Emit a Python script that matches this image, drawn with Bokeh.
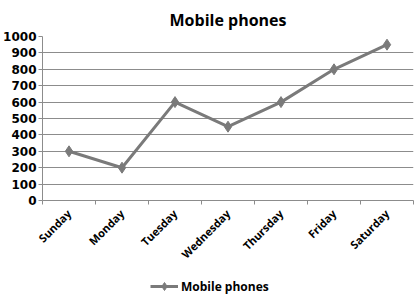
from bokeh.plotting import figure
from bokeh.layouts import column
from bokeh.models import (Range1d, LinearAxis, FixedTicker, Legend, LegendItem, ColumnDataSource)
from bokeh.embed import file_html
from bokeh.resources import INLINE
import math

days = ["Sunday", "Monday", "Tuesday", "Wednesday", "Thursday", "Friday", "Saturday"]
phones = [300, 200, 600, 450, 600, 800, 950]
y_ticks = [0, 100, 200, 300, 400, 500, 600, 700, 800, 900, 1000]
series_name = "Mobile phones"

FONT = "Open Sans"
NUM_FONT = "DejaVu Sans"
LINE_COLOR = "#7a7a7a"
GRID_COLOR = "#8c8c8c"

# each day sits in the middle of its own unit-wide slot
slot_centers = [i + 0.5 for i in range(len(days))]
slot_edges = list(range(len(days) + 1))

src = ColumnDataSource(dict(x=slot_centers, value=phones, day=days))

p = figure(width=419, height=270, x_range=Range1d(0, len(days)), y_range=Range1d(0, 1000),
           output_backend="svg", toolbar_location=None, x_axis_location=None, y_axis_location=None,
           min_border_left=42, min_border_right=6, min_border_top=35, min_border_bottom=70)

p.title.text = series_name
p.title.align = "center"
p.title.offset = -10
p.title.text_font = FONT
p.title.text_font_size = "16px"
p.title.text_font_style = "bold"
p.title.text_color = "black"
p.title.standoff = 12

p.outline_line_color = None
p.background_fill_color = "white"
p.border_fill_color = "white"

# value axis
yax = LinearAxis(ticker=FixedTicker(ticks=y_ticks))
yax.axis_line_color = GRID_COLOR
yax.major_tick_line_color = GRID_COLOR
yax.major_tick_out = 4
yax.major_tick_in = 0
yax.minor_tick_line_color = None
yax.major_label_standoff = 2
yax.major_label_text_font = NUM_FONT
yax.major_label_text_font_size = "12px"
yax.major_label_text_font_style = "bold"
yax.major_label_text_color = "black"
p.add_layout(yax, "left")

p.ygrid.ticker = FixedTicker(ticks=y_ticks)
p.xgrid.grid_line_color = None
p.ygrid.grid_line_color = GRID_COLOR
p.ygrid.grid_line_width = 1

# base line with ticks between the day slots (no labels of its own)
tick_ax = LinearAxis(ticker=FixedTicker(ticks=slot_edges),
                     major_label_overrides={e: "" for e in slot_edges})
tick_ax.axis_line_color = GRID_COLOR
tick_ax.major_tick_line_color = GRID_COLOR
tick_ax.major_tick_out = 4
tick_ax.major_tick_in = 0
tick_ax.minor_tick_line_color = None
tick_ax.major_label_standoff = 0
p.add_layout(tick_ax, "below")

# day names under the slot centres
xax = LinearAxis(ticker=FixedTicker(ticks=slot_centers),
                 major_label_overrides={c: d for c, d in zip(slot_centers, days)})
xax.axis_line_color = None
xax.major_tick_line_color = None
xax.minor_tick_line_color = None
xax.major_tick_out = 0
xax.major_label_orientation = math.pi / 4
xax.major_label_standoff = 7
xax.major_label_text_font = FONT
xax.major_label_text_font_size = "11px"
xax.major_label_text_font_style = "bold"
xax.major_label_text_color = "black"
p.add_layout(xax, "below")

p.line("x", "value", source=src, line_color=LINE_COLOR, line_width=3)
p.scatter("x", "value", source=src, marker="diamond", size=11,
          fill_color=LINE_COLOR, line_color=LINE_COLOR)

# legend strip under the chart; its key renderers reuse the series but fall
# outside this strip's tiny value range, so only the legend itself shows
key = figure(width=419, height=30, x_range=Range1d(0, len(days)), y_range=Range1d(-2, -1),
             output_backend="svg", toolbar_location=None,
             min_border_left=0, min_border_right=0, min_border_top=0, min_border_bottom=0)
key.axis.visible = False
key.grid.visible = False
key.outline_line_color = None
key.border_fill_color = "white"
k_ln = key.line("x", "value", source=src, line_color=LINE_COLOR, line_width=3)
k_mk = key.scatter("x", "value", source=src, marker="diamond", size=11,
                   fill_color=LINE_COLOR, line_color=LINE_COLOR)
legend = Legend(items=[LegendItem(label=series_name, renderers=[k_ln, k_mk])],
                location=(108, 4), orientation="horizontal",
                label_text_font=FONT, label_text_font_size="12px", label_text_font_style="bold",
                label_text_color="black", border_line_color=None, background_fill_alpha=0,
                glyph_width=28, label_standoff=3, padding=2, margin=0)
key.add_layout(legend, "center")

open("out.html", "w").write(file_html(column(p, key, spacing=0), INLINE))
